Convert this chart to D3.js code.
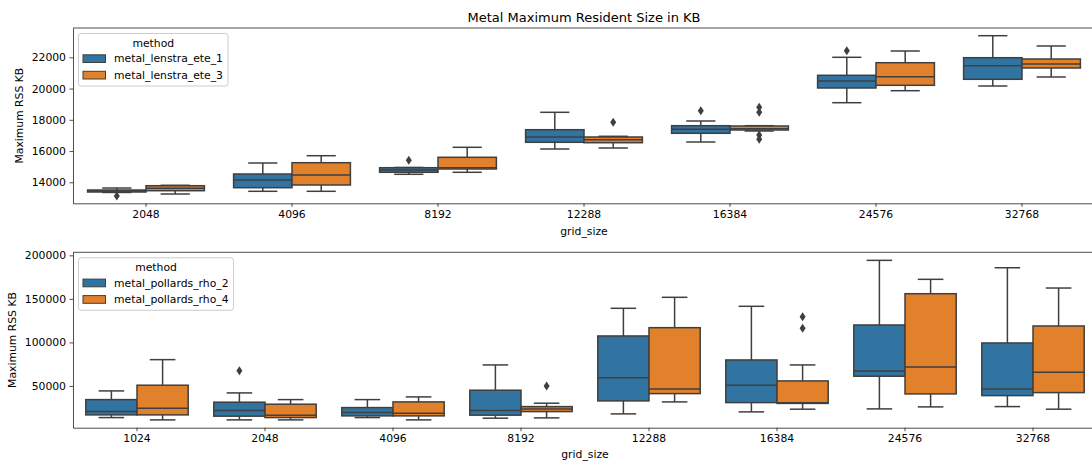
<!DOCTYPE html>
<html>
<head>
<meta charset="utf-8">
<script src="https://cdn.jsdelivr.net/npm/d3@7"></script>
<style>
  body { margin: 0; background: #fff; }
  text { font-family: 'DejaVu Sans', sans-serif; fill: #000; }
</style>
</head>
<body>
<svg id="chart" width="1092" height="463"></svg>
<script>
// Top panel: lenstra methods
const topCategories = ['2048', '4096', '8192', '12288', '16384', '24576', '32768'];
const topMethods = ['metal_lenstra_ete_1', 'metal_lenstra_ete_3'];
// [lower whisker, q1, median, q3, upper whisker]
const topEte1 = [
  [13350, 13379, 13443, 13507, 13635],
  [13424, 13654, 14147, 14531, 15235],
  [14512, 14640, 14787, 14934, 14950],
  [16131, 16560, 16899, 17366, 18480],
  [16579, 17136, 17392, 17622, 17923],
  [19094, 20035, 20483, 20848, 22000],
  [20163, 20592, 21462, 21974, 23382],
];
const topEte3 = [
  [13251, 13462, 13616, 13782, 13808],
  [13424, 13827, 14467, 15254, 15702],
  [14640, 14851, 14934, 15600, 16240],
  [16195, 16534, 16726, 16899, 16944],
  [17283, 17347, 17430, 17603, 17622],
  [19862, 20208, 20758, 21654, 22403],
  [20739, 21315, 21571, 21891, 22723],
];
const topOutliers1 = [[13123], [], [15408], [], [18582], [22422], []];
const topOutliers3 = [[], [], [], [17840], [18800, 18480, 17027, 16752], [], []];
const topTicks = [14000, 16000, 18000, 20000, 22000];

// Bottom panel: pollards rho methods
const bottomCategories = ['1024', '2048', '4096', '8192', '12288', '16384', '24576', '32768'];
const bottomMethods = ['metal_pollards_rho_2', 'metal_pollards_rho_4'];
const bottomRho2 = [
  [13622, 16720, 20506, 34278, 44262],
  [10982, 15228, 21654, 31294, 41967],
  [13622, 15572, 19359, 25097, 34278],
  [12932, 16375, 21654, 45065, 74100],
  [17867, 32786, 59525, 107380, 139168],
  [20162, 30835, 50803, 79838, 141465],
  [23605, 61132, 67214, 120004, 194254],
  [26245, 38868, 46557, 99347, 185760],
];
const bottomRho4 = [
  [10982, 16720, 24409, 50803, 80182],
  [10982, 13622, 16375, 28999, 34278],
  [10982, 15572, 18670, 31638, 37376],
  [13277, 20506, 23605, 26245, 30147],
  [31638, 41163, 46557, 116905, 151792],
  [23261, 29900, 30600, 55738, 74100],
  [25900, 40819, 71804, 155925, 172449],
  [23261, 42311, 65722, 118856, 162465],
];
const bottomOutliers2 = [[], [67558], [], [], [], [], [], []];
const bottomOutliers4 = [[], [], [], [50000], [], [129529, 116217], [], []];
const bottomTicks = [50000, 100000, 150000, 200000];

const colors = ['#3274a1', '#e1812c'];
const lineColor = '#3f3f3f';
const fontSize = '10.8px';

const svg = d3.select('#chart');

const drawPanel = ({ top, height, categories, methods, stats, outliers, yDomain, yTicks, yLabelX, xLabelY }) => {
  const left = 73;
  const step = top < 100 ? 146 : 128;
  const width = step * categories.length;
  const g = svg.append('g').attr('transform', `translate(${left},${top})`);

  const x = d3.scaleBand().domain(categories).range([0, width]);
  const hue = d3.scaleBand().domain(methods).range([x.bandwidth() * 0.1, x.bandwidth() * 0.9]);
  const y = d3.scaleLinear().domain(yDomain).range([height, 0]);
  const bw = hue.bandwidth();

  methods.forEach((m, mi) => {
    categories.forEach((c, ci) => {
      const [lo, q1, med, q3, hi] = stats[mi][ci];
      const cx = x(c) + hue(m) + bw / 2;
      const box = g.append('g');
      box.append('line').attr('x1', cx).attr('x2', cx).attr('y1', y(hi)).attr('y2', y(q3));
      box.append('line').attr('x1', cx).attr('x2', cx).attr('y1', y(q1)).attr('y2', y(lo));
      box.append('line').attr('x1', cx - bw / 4).attr('x2', cx + bw / 4).attr('y1', y(hi)).attr('y2', y(hi));
      box.append('line').attr('x1', cx - bw / 4).attr('x2', cx + bw / 4).attr('y1', y(lo)).attr('y2', y(lo));
      box.append('rect')
        .attr('x', x(c) + hue(m))
        .attr('width', bw)
        .attr('y', y(q3))
        .attr('height', Math.max(y(q1) - y(q3), 0.5))
        .attr('fill', colors[mi]);
      box.append('line').attr('x1', x(c) + hue(m)).attr('x2', x(c) + hue(m) + bw).attr('y1', y(med)).attr('y2', y(med));
      box.selectAll('line, rect').attr('stroke', lineColor).attr('stroke-width', 1.5);

      outliers[mi][ci].forEach((v) => {
        g.append('path')
          .attr('d', `M${cx},${y(v) - 4.5}L${cx + 3},${y(v)}L${cx},${y(v) + 4.5}L${cx - 3},${y(v)}Z`)
          .attr('fill', lineColor);
      });
    });
  });

  const xAxis = g.append('g')
    .attr('transform', `translate(0,${height})`)
    .call(d3.axisBottom(x).tickSizeInner(3.5).tickSizeOuter(0).tickPadding(3.5));
  const yAxis = g.append('g')
    .call(d3.axisLeft(y).tickValues(yTicks).tickFormat(d3.format('d')).tickSizeInner(3.5).tickSizeOuter(0).tickPadding(3.5));
  [xAxis, yAxis].forEach((a) => {
    a.selectAll('text').style('font-size', fontSize).style('font-family', 'DejaVu Sans');
    a.selectAll('line, path').attr('stroke', '#222').attr('stroke-width', 0.8);
  });

  g.append('line').attr('x1', 0).attr('x2', width).attr('y1', 0).attr('y2', 0)
    .attr('stroke', '#222').attr('stroke-width', 0.8);
  g.append('line').attr('x1', width).attr('x2', width).attr('y1', 0).attr('y2', height)
    .attr('stroke', '#222').attr('stroke-width', 0.8);

  g.append('text')
    .attr('x', width / 2)
    .attr('y', xLabelY)
    .attr('text-anchor', 'middle')
    .style('font-size', fontSize)
    .text('grid_size');

  g.append('text')
    .attr('transform', 'rotate(-90)')
    .attr('x', -height / 2)
    .attr('y', yLabelX)
    .attr('text-anchor', 'middle')
    .style('font-size', fontSize)
    .text('Maximum RSS KB');

  // legend
  const lg = g.append('g').attr('transform', 'translate(5.5,5.5)');
  const frame = lg.append('rect')
    .attr('height', 52.5)
    .attr('rx', 2.5)
    .attr('fill', '#fff')
    .attr('fill-opacity', 0.8)
    .attr('stroke', '#ccc')
    .attr('stroke-width', 1);
  const labels = methods.map((m, mi) => {
    lg.append('rect')
      .attr('x', 4.5)
      .attr('y', 21.3 + mi * 16.5)
      .attr('width', 22.5)
      .attr('height', 7.7)
      .attr('fill', colors[mi])
      .attr('stroke', lineColor)
      .attr('stroke-width', 1);
    return lg.append('text')
      .attr('x', 35.5)
      .attr('y', 25.2 + mi * 16.5)
      .attr('dy', '0.35em')
      .style('font-size', fontSize)
      .text(m);
  });
  const textW = d3.max(labels, (t) => t.node().getComputedTextLength());
  const legendW = 35.5 + textW + 5;
  frame.attr('width', legendW);
  lg.append('text')
    .attr('x', legendW / 2)
    .attr('y', 9.4)
    .attr('dy', '0.35em')
    .attr('text-anchor', 'middle')
    .style('font-size', fontSize)
    .text('method');

  return { g, width };
};

const topPanel = drawPanel({
  top: 28,
  height: 175.3,
  categories: topCategories,
  methods: topMethods,
  stats: [topEte1, topEte3],
  outliers: [topOutliers1, topOutliers3],
  yDomain: [12656, 23875],
  yTicks: topTicks,
  yLabelX: -50,
  xLabelY: 207,
});

topPanel.g.append('text')
  .attr('x', topPanel.width / 2)
  .attr('y', -10.5)
  .attr('dy', '0.35em')
  .attr('text-anchor', 'middle')
  .style('font-size', '13px')
  .text('Metal Maximum Resident Size in KB');

drawPanel({
  top: 252.3,
  height: 175.4,
  categories: bottomCategories,
  methods: bottomMethods,
  stats: [bottomRho2, bottomRho4],
  outliers: [bottomOutliers2, bottomOutliers4],
  yDomain: [2000, 203500],
  yTicks: bottomTicks,
  yLabelX: -57,
  xLabelY: 206,
});
</script>
</body>
</html>
